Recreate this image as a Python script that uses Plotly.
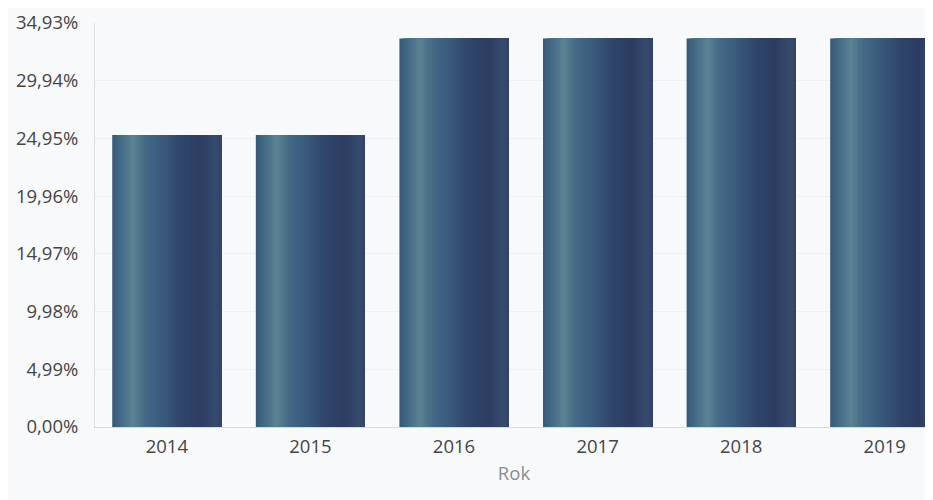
import plotly.graph_objects as go

# ── Data ──────────────────────────────────────────────────────────────────────
years = ["2014", "2015", "2016", "2017", "2018", "2019"]
values = [25.25, 25.25, 33.6, 33.6, 33.6, 33.6]

y_tickvals = [0, 4.99, 9.98, 14.97, 19.96, 24.95, 29.94, 34.93]
y_ticktext = ["0,00%", "4,99%", "9,98%", "14,97%", "19,96%", "24,95%", "29,94%", "34,93%"]

# ── Style ─────────────────────────────────────────────────────────────────────
FONT = "Open Sans"
BAR_WIDTH = 0.76
N_STRIPS = 40
# horizontal "cylinder" shading across each bar: (position, rgb)
GRADIENT = [
    (0.00, (54, 88, 120)),
    (0.09, (70, 110, 136)),
    (0.19, (92, 130, 146)),
    (0.30, (68, 106, 134)),
    (0.46, (58, 90, 124)),
    (0.65, (47, 68, 104)),
    (0.82, (45, 61, 98)),
    (0.95, (56, 76, 110)),
    (1.00, (50, 66, 100)),
]


def _color_at(t):
    for (p0, c0), (p1, c1) in zip(GRADIENT, GRADIENT[1:]):
        if p0 <= t <= p1:
            f = (t - p0) / (p1 - p0) if p1 > p0 else 0
            r, g, b = (round(a + (b_ - a) * f) for a, b_ in zip(c0, c1))
            return f"rgb({r},{g},{b})"
    return "rgb(%d,%d,%d)" % GRADIENT[-1][1]


fig = go.Figure()

# each bar is drawn as overlaid strips, every strip running to the bar's right
# edge so later strips cover earlier ones without seams
strip_w = BAR_WIDTH / N_STRIPS
for i in range(N_STRIPS):
    t = (i + 0.5) / N_STRIPS
    fig.add_trace(go.Bar(
        x=years,
        y=values,
        offset=-BAR_WIDTH / 2 + i * strip_w,
        width=BAR_WIDTH - i * strip_w,
        marker=dict(color=_color_at(t), line=dict(width=0)),
        showlegend=False,
        hoverinfo="skip",
    ))

fig.update_layout(
    width=925,
    height=492,
    barmode="overlay",
    paper_bgcolor="#f8f9fb",
    plot_bgcolor="#f8f9fb",
    margin=dict(l=87, r=0, t=15, b=73),
    font=dict(family=FONT, size=18.5, color="#454545"),
)

fig.update_xaxes(
    type="category",
    range=[-0.5, 5.336],
    showgrid=False,
    showline=True,
    linecolor="#d6d9de",
    linewidth=1,
    ticks="",
    ticklabelstandoff=3,
    tickfont=dict(size=18.5, color="#454545"),
    title=dict(text="Rok", font=dict(size=18.5, color="#8a8d92"), standoff=9),
)

fig.update_yaxes(
    range=[0, 34.93],
    tickvals=y_tickvals,
    ticktext=y_ticktext,
    showgrid=True,
    gridcolor="#eef0f3",
    gridwidth=1,
    zeroline=False,
    showline=True,
    linecolor="#dcdfe3",
    linewidth=1,
    ticks="",
    ticklabelstandoff=12,
    tickfont=dict(size=18.5, color="#454545"),
)

fig.write_html("out.html")
